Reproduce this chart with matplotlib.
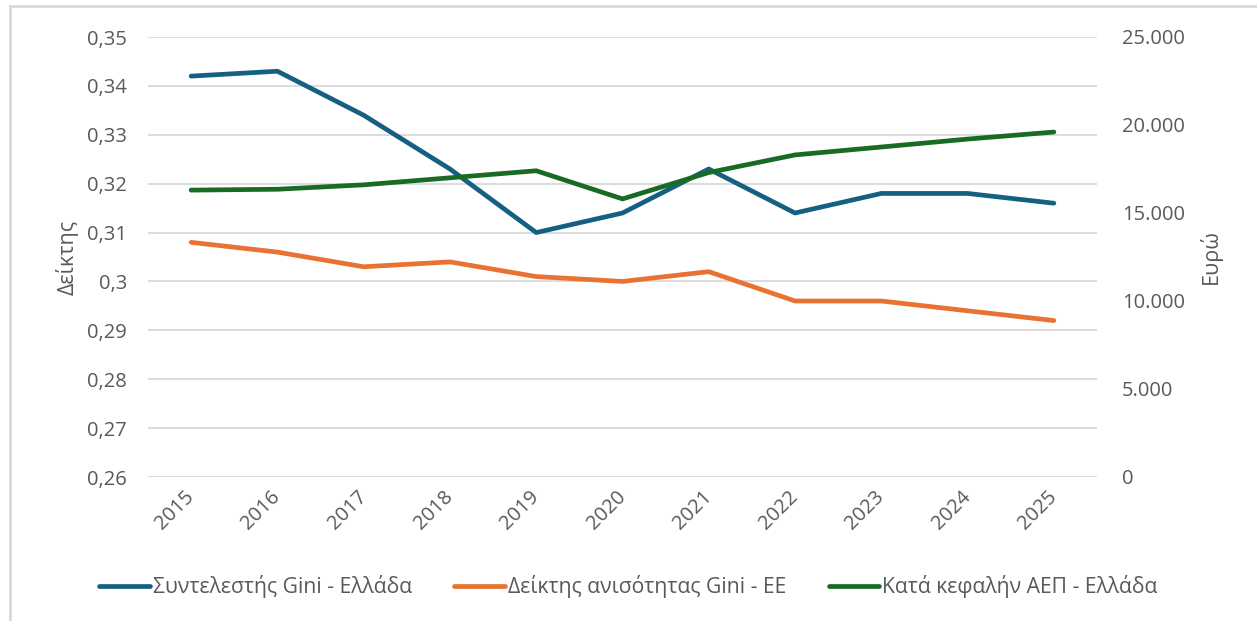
import matplotlib.pyplot as plt
from matplotlib.lines import Line2D
from matplotlib.ticker import FuncFormatter
import numpy as np

plt.rcParams['font.family'] = ['Open Sans', 'DejaVu Sans']

years = ['2015', '2016', '2017', '2018', '2019', '2020', '2021', '2022', '2023', '2024', '2025']
gini_gr = [0.342, 0.343, 0.334, 0.323, 0.310, 0.314, 0.323, 0.314, 0.318, 0.318, 0.316]
gini_eu = [0.308, 0.306, 0.303, 0.304, 0.301, 0.300, 0.302, 0.296, 0.296, 0.294, 0.292]
gdp_gr = [16300, 16350, 16600, 17000, 17400, 15800, 17300, 18300, 18750, 19200, 19600]

label_gr = 'Συντελεστής Gini - Ελλάδα'
label_eu = 'Δείκτης ανισότητας Gini - ΕΕ'
label_gdp = 'Κατά κεφαλήν ΑΕΠ - Ελλάδα'

c_blue = '#156082'
c_orange = '#E97132'
c_green = '#196B24'
txt = '#595959'
grid = '#D9D9D9'

fig = plt.figure(figsize=(12.57, 6.21), dpi=100)
ax1 = fig.add_axes([148 / 1257, 1 - 477 / 621, (1097 - 148) / 1257, 440 / 621])
ax2 = ax1.twinx()

x = np.arange(len(years))
l1, = ax1.plot(x, gini_gr, color=c_blue, lw=3.4, label=label_gr, solid_capstyle='round')
l2, = ax1.plot(x, gini_eu, color=c_orange, lw=3.4, label=label_eu, solid_capstyle='round')
l3, = ax2.plot(x, gdp_gr, color=c_green, lw=3.4, label=label_gdp, solid_capstyle='round')

ax1.set_ylim(0.26, 0.35)
ax1.set_yticks(np.arange(0.26, 0.3501, 0.01))
ax1.yaxis.set_major_formatter(FuncFormatter(lambda v, p: ('%g' % round(v, 2)).replace('.', ',')))
ax2.set_ylim(0, 25000)
ax2.set_yticks(np.arange(0, 25001, 5000))
ax2.yaxis.set_major_formatter(FuncFormatter(lambda v, p: '{:,.0f}'.format(v).replace(',', '.')))
ax1.set_xlim(-0.5, len(years) - 0.5)
ax1.set_xticks(x)
ax1.set_xticklabels(years, rotation=45, ha='right', va='center', rotation_mode='anchor')

ax1.grid(axis='y', color=grid, lw=1.3)
ax1.set_axisbelow(True)
for a in (ax1, ax2):
    for s in a.spines.values():
        s.set_visible(False)
    a.tick_params(length=0, colors=txt, labelsize=14.5)
ax1.tick_params(axis='y', pad=15)
ax2.tick_params(axis='y', pad=18)
ax1.tick_params(axis='x', pad=12)

ax1.set_ylabel('Δείκτης', color=txt, fontsize=15.5, labelpad=6)
ax2.set_ylabel('Ευρώ', color=txt, fontsize=15.5, rotation=90, labelpad=10)

fig.legend(handles=[l1, l2, l3], loc='center', bbox_to_anchor=(0.5, 1 - 587 / 621),
           ncol=3, frameon=False, fontsize=15.2, labelcolor=txt,
           handlelength=2.4, handletextpad=0.15, columnspacing=2.0)

# outer chart border
fig.add_artist(Line2D([10 / 1257, 1], [1 - 6 / 621, 1 - 6 / 621], color=grid, lw=2))
fig.add_artist(Line2D([10 / 1257, 10 / 1257], [0, 1 - 6 / 621], color=grid, lw=2))

fig.savefig('out.png', dpi=100)
